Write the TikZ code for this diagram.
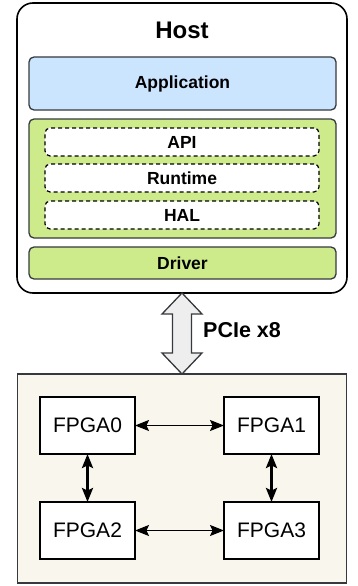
\documentclass[tikz,border=0pt]{standalone}
\usepackage{fontspec}
\setmainfont{Liberation Sans}
\usetikzlibrary{arrows.meta, positioning}

\definecolor{edge}{HTML}{36393D}
\definecolor{appblue}{HTML}{CCE5FF}
\definecolor{libgreen}{HTML}{CDEB8B}
\definecolor{boardbg}{HTML}{F9F7ED}
\definecolor{busgray}{HTML}{EEEEEE}

\tikzstyle{host}  = [draw=black, fill=white, line width=1.6pt, rounded corners=16pt, outer sep=0pt]
\tikzstyle{layer} = [draw=edge, line width=1.3pt, rounded corners=5pt, outer sep=0pt, inner sep=0pt,
                     minimum width=307pt, font=\fontsize{17.5}{20}\selectfont\bfseries]
\tikzstyle{sub}   = [draw=black, fill=white, line width=1.2pt, dash pattern=on 4pt off 3pt,
                     rounded corners=5pt, outer sep=0pt, inner sep=0pt,
                     minimum width=274pt, minimum height=28pt, font=\fontsize{17.5}{20}\selectfont\bfseries]
\tikzstyle{board} = [draw=edge, fill=boardbg, line width=1.3pt, outer sep=0pt]
\tikzstyle{fpga}  = [draw=black, fill=white, line width=1.5pt, outer sep=0pt, inner sep=0pt,
                     minimum width=95pt, minimum height=57pt, font=\fontsize{21}{24}\selectfont]
\tikzstyle{link}  = [draw=black, line width=1.4pt,
                     arrows={Stealth[length=14pt, width=11pt, inset=2.5pt]-Stealth[length=14pt, width=11pt, inset=2.5pt]}]
\tikzstyle{ring}  = [draw=black, line width=2.6pt,
                     arrows={Stealth[length=14pt, width=11pt, inset=2.5pt]-Stealth[length=14pt, width=11pt, inset=2.5pt]}]
\tikzstyle{bus}   = [draw=edge, fill=busgray, line width=1.3pt, line join=miter]

\begin{document}
\begin{tikzpicture}[x=1pt, y=1pt]
\useasboundingbox (0,0) rectangle (358,-586);

% host software stack
\node [host, minimum width=330pt, minimum height=290pt]         (host)    at (182,-148)   {};
\node [font=\fontsize{24}{28}\selectfont\bfseries, inner sep=0pt] (hostname) at (182,-30) {Host};
\node [layer, fill=appblue,  minimum height=53pt ]               (app)     at (182.5,-83.5) {Application};
\node [layer, fill=libgreen, minimum height=119pt, below=9pt of app] (stack)  {};
\node [sub                                                ]      (api)     at (182,-142)   {API};
\node [sub, below=8pt of api                              ]      (runtime) {Runtime};
\node [sub, below=9pt of runtime                          ]      (hal)     {HAL};
\node [layer, fill=libgreen, minimum height=32pt,  below=9pt of stack] (driver) {Driver};

% fpga board
\node [board, minimum width=329pt, minimum height=209pt]         (board)   at (182,-478.5) {};
\node [fpga                      ]                              (fpga0)   at (87.5,-425.5) {FPGA0};
\node [fpga, right=89pt of fpga0 ]                              (fpga1)   {FPGA1};
\node [fpga, below=48pt of fpga0 ]                              (fpga2)   {FPGA2};
\node [fpga, right=89pt of fpga2 ]                              (fpga3)   {FPGA3};

\path [link] (fpga0) edge (fpga1)
             (fpga2) edge (fpga3);
\path [ring] (fpga0) edge (fpga2)
             (fpga1) edge (fpga3);

% pcie link between host and board
\draw [bus] (host.south) -- ++(20,-21) -- ++(-10.5,0) -- ++(0,-39) -- ++(10.5,0)
            -- (board.north) -- ++(-20,21) -- ++(10.5,0) -- ++(0,39) -- ++(-10.5,0) -- cycle;
\node [font=\fontsize{21.5}{24}\selectfont\bfseries, inner sep=0pt, anchor=west] (pcie) at (203,-330) {PCIe x8};

\end{tikzpicture}
\end{document}
